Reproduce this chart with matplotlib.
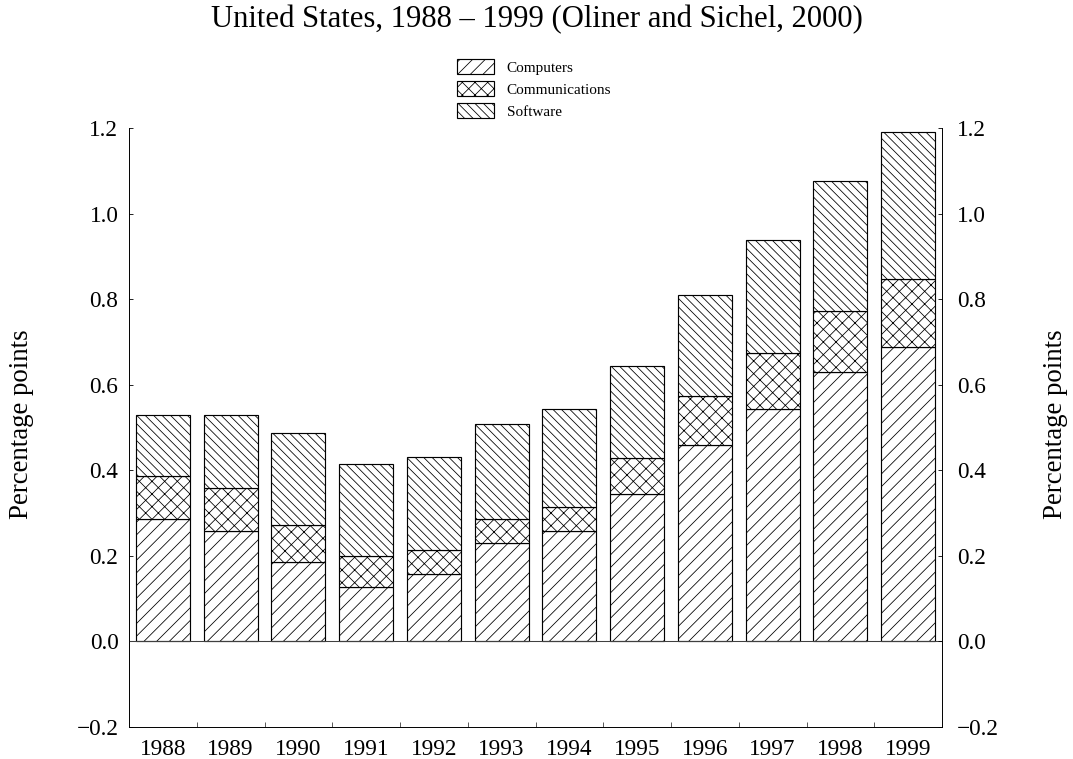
import numpy as np
import matplotlib
matplotlib.use('Agg')
import matplotlib.pyplot as plt

plt.rcParams['font.family'] = ['Liberation Serif', 'DejaVu Serif']
plt.rcParams['hatch.linewidth'] = 0.75

years = ['1988', '1989', '1990', '1991', '1992', '1993',
         '1994', '1995', '1996', '1997', '1998', '1999']
computers = [0.286, 0.258, 0.186, 0.128, 0.157, 0.229, 0.258, 0.344, 0.458, 0.544, 0.630, 0.688]
communications = [0.100, 0.101, 0.085, 0.071, 0.057, 0.056, 0.057, 0.085, 0.116, 0.129, 0.143, 0.158]
software = [0.144, 0.171, 0.215, 0.216, 0.216, 0.223, 0.229, 0.215, 0.236, 0.265, 0.303, 0.345]
yticks = [-0.2, 0.0, 0.2, 0.4, 0.6, 0.8, 1.0, 1.2]

DPI = 76
fig = plt.figure(figsize=(1073/DPI, 759/DPI), dpi=DPI)
ax = fig.add_axes([129/1073, 1-727/759, (942-129)/1073, (727-128)/759])

x = np.arange(len(years))
comp = np.array(computers)
comm = np.array(communications)
soft = np.array(software)

kw = dict(width=0.8, color='white', edgecolor='black', linewidth=1.1, zorder=3)
b1 = ax.bar(x, comp, hatch='//', label='Computers', **kw)
b2 = ax.bar(x, comm, bottom=comp, hatch='xx', label='Communications', **kw)
b3 = ax.bar(x, soft, bottom=comp+comm, hatch='\\\\\\', label='Software', **kw)

ax.axhline(0, color='0.25', lw=1.0, zorder=4)
ax.set_xlim(-0.5, len(years)-0.5)
ax.set_ylim(-0.2, 1.2)
ylabels = ['%.1f' % v if v >= 0 else '\u2212%.1f' % -v for v in yticks]
ax.set_yticks(yticks)
ax.set_yticklabels(ylabels)
ax.set_xticks(x)
ax.set_xticklabels(years)
ax.set_xticks(x[:-1] + 0.5, minor=True)
ax.tick_params(axis='x', which='major', length=0, pad=11, labelsize=22)
ax.tick_params(axis='x', which='minor', direction='in', length=5)
ax.tick_params(axis='y', direction='in', length=4, pad=10, labelsize=22)
ax.spines['top'].set_visible(False)

ax2 = ax.twinx()
ax2.set_ylim(-0.2, 1.2)
ax2.set_yticks(yticks)
ax2.set_yticklabels(ylabels)
ax2.tick_params(axis='y', direction='in', length=4, pad=14, labelsize=22)
ax2.spines['top'].set_visible(False)

fig.text(22/1073, 1-424/759, 'Percentage points', rotation=90,
         ha='center', va='center', fontsize=25.5)
fig.text(1055/1073, 1-424/759, 'Percentage points', rotation=90,
         ha='center', va='center', fontsize=25.5)

fig.text(0.5, 1-27/759, 'United States, 1988 \u2013 1999 (Oliner and Sichel, 2000)',
         ha='center', va='baseline', fontsize=29)

fig.legend(handles=[b1, b2, b3], loc='upper left', bbox_to_anchor=(457/1073, 1-59/759),
           frameon=False, fontsize=14.5, handlelength=2.4, handleheight=1.12,
           labelspacing=0.42, handletextpad=0.85, borderpad=0, borderaxespad=0)

fig.savefig('out.png', dpi=DPI)
